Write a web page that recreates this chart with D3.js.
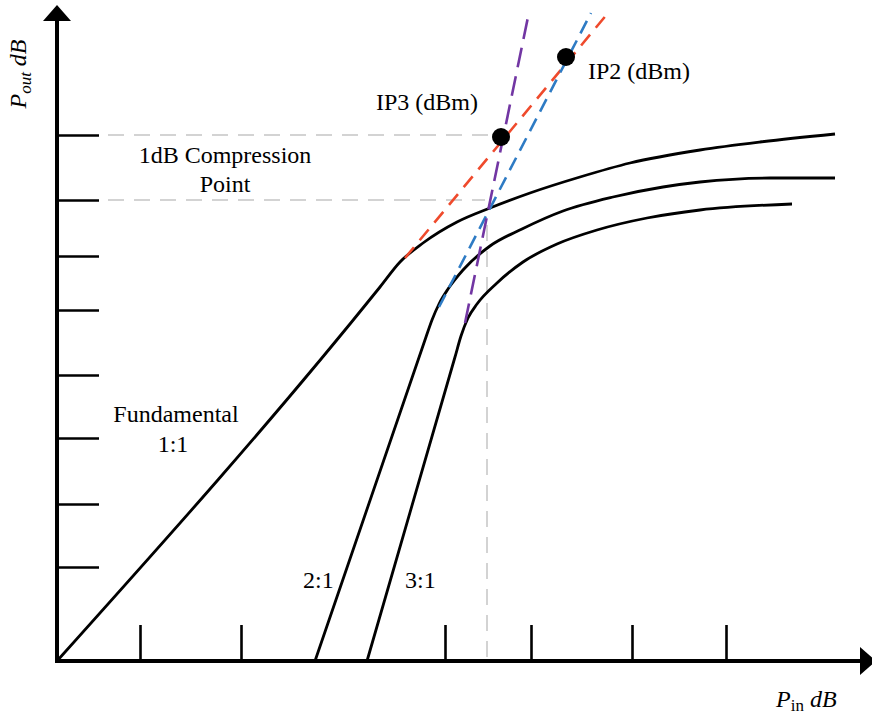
<!DOCTYPE html>
<html>
<head>
<meta charset="utf-8">
<script src="https://cdn.jsdelivr.net/npm/d3@7/dist/d3.min.js"></script>
<style>
  body { margin: 0; background: #fff; }
  svg text { font-family: "Liberation Serif", "Times New Roman", serif; fill: #000; }
</style>
</head>
<body>
<div id="chart"></div>
<script>
// values in drawing units (input level on x, output level on y)
var xTicks = [83, 184, 388, 474, 575, 669];
var yTicks = [94, 157, 223, 286, 351, 405, 461, 526];

var fundamental = [[0,0],[323,374],[343,399],[366,418],[400,439],[433,453],[473,468],[523,484],[573,498],[643,511],[703,519],[778,527]];
var second = [[258,0],[369,324],[375,341],[382,357],[391,372],[406,391],[433,415],[465,432],[506,450],[556,464],[606,474],[643,479],[713,483],[778,483]];
var third = [[310,0],[398,304],[404,325],[411,343],[420,357],[440,378],[466,399],[500,417],[540,431],[590,443],[643,451],[735,457]];

var extFund = [[348,403],[551,648]];
var extSecond = [[382,354],[534,648]];
var extThird = [[408,338],[471,644]];

var intercepts = [
  {name: "IP3 (dBm)", x: 444, y: 524},
  {name: "IP2 (dBm)", x: 509, y: 604}
];

var svgWidth = 872;
var svgHeight = 717;

var svg = d3.select("#chart")
  .append("svg")
  .attr("width", svgWidth)
  .attr("height", svgHeight);

var x = d3.scaleLinear().domain([0, 800]).range([57, 857]);
var y = d3.scaleLinear().domain([0, 650]).range([661, 11]);

// ticks
svg.append("g")
  .attr("transform", `translate(0, ${y(0)})`)
  .call(d3.axisBottom(x).tickValues(xTicks).tickSize(-36).tickFormat(""))
  .call(g => g.select(".domain").remove())
  .call(g => g.selectAll("line").attr("stroke", "#000").attr("stroke-width", 2.6));

svg.append("g")
  .attr("transform", `translate(${x(0)}, 0)`)
  .call(d3.axisLeft(y).tickValues(yTicks).tickSize(-42).tickFormat(""))
  .call(g => g.select(".domain").remove())
  .call(g => g.selectAll("line").attr("stroke", "#000").attr("stroke-width", 2.6));

// grey guide lines
var guide = svg.append("g")
  .attr("stroke", "#d3d3d3")
  .attr("stroke-width", 2)
  .attr("stroke-dasharray", "16 10")
  .attr("fill", "none");

guide.append("line")
  .attr("x1", x(51)).attr("x2", x(433))
  .attr("y1", y(yTicks[7])).attr("y2", y(yTicks[7]));
guide.append("line")
  .attr("x1", x(51)).attr("x2", x(428))
  .attr("y1", y(yTicks[6])).attr("y2", y(yTicks[6]));
guide.append("line")
  .attr("x1", x(430)).attr("x2", x(430))
  .attr("y1", y(436)).attr("y2", y(0));

// curves
var line = d3.line()
  .x(d => x(d[0]))
  .y(d => y(d[1]))
  .curve(d3.curveMonotoneX);

[fundamental, second, third].forEach(function(s) {
  svg.append("path")
    .attr("d", line(s))
    .attr("fill", "none")
    .attr("stroke", "#000")
    .attr("stroke-width", 2.8)
    .attr("stroke-linejoin", "round");
});

// extrapolated lines
var straight = d3.line().x(d => x(d[0])).y(d => y(d[1]));

svg.append("path").attr("d", straight(extFund))
  .attr("stroke", "#ef4a2c").attr("stroke-width", 2.6)
  .attr("stroke-dasharray", "14 9").attr("fill", "none");
svg.append("path").attr("d", straight(extSecond))
  .attr("stroke", "#2e7bc4").attr("stroke-width", 2.6)
  .attr("stroke-dasharray", "14 8").attr("fill", "none");
svg.append("path").attr("d", straight(extThird))
  .attr("stroke", "#7236a3").attr("stroke-width", 2.6)
  .attr("stroke-dasharray", "20 9").attr("fill", "none");

svg.selectAll("circle.ip")
  .data(intercepts)
  .enter()
  .append("circle")
  .attr("class", "ip")
  .attr("cx", d => x(d.x))
  .attr("cy", d => y(d.y))
  .attr("r", 9)
  .attr("fill", "#000");

// axes with arrows
svg.append("line")
  .attr("x1", x(0)).attr("x2", x(0))
  .attr("y1", y(0) + 2).attr("y2", 20)
  .attr("stroke", "#000").attr("stroke-width", 4);
svg.append("polygon")
  .attr("points", `${x(0)},5 ${x(0) - 14},21 ${x(0) + 14},21`)
  .attr("fill", "#000");

svg.append("line")
  .attr("x1", x(0) - 2).attr("x2", 862)
  .attr("y1", y(0)).attr("y2", y(0))
  .attr("stroke", "#000").attr("stroke-width", 4);
svg.append("polygon")
  .attr("points", `876,${y(0)} 860,${y(0) - 14} 860,${y(0) + 14}`)
  .attr("fill", "#000");

// labels
function label(txt, px, py, anchor) {
  return svg.append("text")
    .attr("x", px).attr("y", py)
    .attr("text-anchor", anchor || "start")
    .attr("font-size", 24)
    .text(txt);
}

label(intercepts[0].name, 478, 110, "end");
label(intercepts[1].name, 588, 79, "start");
label("1dB Compression", 225, 163, "middle");
label("Point", 225, 192, "middle");
label("Fundamental", 176, 422, "middle");
label("1:1", 173, 452, "middle");
label("2:1", 303, 588, "start");
label("3:1", 405, 588, "start");

var yTitle = svg.append("text")
  .attr("transform", "translate(26, 74) rotate(-90)")
  .attr("text-anchor", "middle")
  .attr("font-size", 24)
  .attr("font-style", "italic");
yTitle.append("tspan").text("P");
yTitle.append("tspan").attr("dy", 5).attr("font-size", 17).text("out");
yTitle.append("tspan").attr("dy", -5).text(" dB");

var xTitle = svg.append("text")
  .attr("x", 776).attr("y", 707)
  .attr("font-size", 24)
  .attr("font-style", "italic");
xTitle.append("tspan").text("P");
xTitle.append("tspan").attr("dy", 4).attr("font-size", 17).attr("font-style", "normal").text("in");
xTitle.append("tspan").attr("dy", -4).text(" dB");
</script>
</body>
</html>
